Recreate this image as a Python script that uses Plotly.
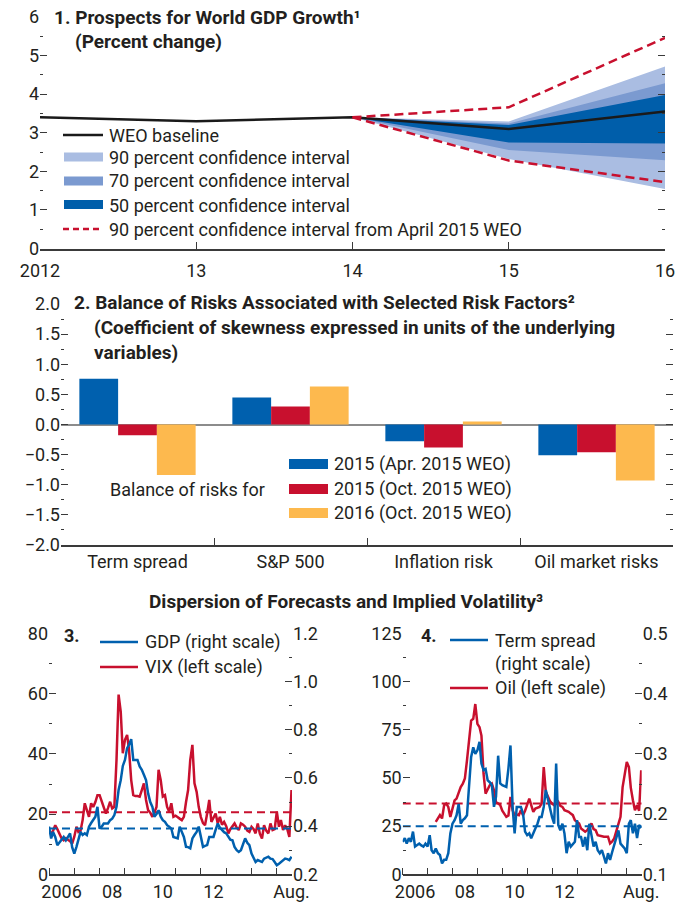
import plotly.graph_objects as go

# the page body adds an 8px margin; size the figure so it fills the 693x903 window
W, H = 693, 903
OFF = 8
FW, FH = W - OFF, H - OFF
FONT = "Roboto, Liberation Sans, sans-serif"
INK = "#231f20"
AXIS = "#3a3a3a"
BLUE = "#0060ae"
RED = "#c8102e"
YELLOW = "#fdb94e"
BAND90 = "#aabde2"
BAND70 = "#7b9ad0"
BAND50 = "#005eaa"

# ---- panel 1: prospects for world GDP growth (percent change)
years = [2012, 2013, 2014, 2015, 2016]
weo_baseline = [3.4, 3.3, 3.4, 3.1, 3.55]
fan_years = [2014, 2015, 2016]
ci90_upper = [3.4, 3.29, 4.72]
ci90_lower = [3.4, 2.32, 1.54]
ci70_upper = [3.4, 3.24, 4.28]
ci70_lower = [3.4, 2.55, 2.29]
ci50_upper = [3.4, 3.20, 3.98]
ci50_lower = [3.4, 2.75, 2.72]
apr_ci90_upper = [3.4, 3.66, 5.46]
apr_ci90_lower = [3.4, 2.28, 1.72]
p1_ticks = [2012, 2013, 2014, 2015, 2016]
p1_labels = ["2012", "13", "14", "15", "16"]

# ---- panel 2: balance of risks
risk_factors = ["Term spread", "S&P 500", "Inflation risk", "Oil market risks"]
skew_2015_apr = [0.76, 0.45, -0.28, -0.51]
skew_2015_oct = [-0.18, 0.30, -0.38, -0.46]
skew_2016_oct = [-0.84, 0.63, 0.05, -0.93]

# ---- panels 3 and 4: monthly, Jan 2006 - Aug 2015
months = [f"{y}-{m:02d}-01" for y in range(2006, 2016) for m in range(1, 13)][:116]

vix = [
    14.0, 13.5, 14.5, 16.3, 15.0, 13.5, 12.0, 11.3, 12.0, 11.5, 11.0, 10.2,
    12.5, 15.8, 14.1, 14.5, 18.0, 23.6, 21.0, 19.1, 23.6, 22.4, 24.0, 26.3,
    26.3, 24.0, 22.4, 20.2, 22.0, 24.1, 21.9, 22.4, 38.0, 59.7, 54.0, 40.2,
    44.7, 46.3, 41.3, 31.3, 26.3, 26.0, 26.0, 25.8, 28.0, 30.2, 24.7, 21.3,
    20.5, 19.1, 20.5, 22.4, 34.7, 31.3, 25.8, 26.3, 22.4, 20.8, 23.6, 19.1,
    19.5, 19.1, 18.5, 18.0, 19.1, 24.0, 28.0, 38.0, 43.0, 30.2, 27.4, 22.4,
    19.0, 17.0, 16.3, 20.2, 24.7, 17.4, 19.0, 20.2, 16.9, 19.1, 16.5, 17.4,
    16.0, 13.6, 15.0, 15.8, 16.9, 15.5, 14.7, 16.9, 16.5, 15.8, 14.5, 14.1,
    15.8, 15.0, 13.6, 16.9, 13.5, 11.9, 16.3, 14.5, 13.6, 16.9, 14.7, 15.0,
    20.8, 15.8, 18.0, 14.7, 16.3, 15.0, 12.4, 28.0,
]
gdp_dispersion = [
    0.398, 0.349, 0.376, 0.355, 0.321, 0.331, 0.341, 0.355, 0.341, 0.356, 0.370, 0.313,
    0.286, 0.314, 0.350, 0.376, 0.363, 0.370, 0.363, 0.398, 0.413, 0.425, 0.439, 0.480,
    0.390, 0.398, 0.411, 0.411, 0.411, 0.425, 0.431, 0.446, 0.480, 0.550, 0.591, 0.650,
    0.675, 0.724, 0.738, 0.761, 0.675, 0.675, 0.675, 0.648, 0.634, 0.613, 0.591, 0.536,
    0.500, 0.480, 0.439, 0.450, 0.466, 0.439, 0.425, 0.418, 0.404, 0.398, 0.390, 0.355,
    0.353, 0.349, 0.398, 0.375, 0.355, 0.314, 0.313, 0.308, 0.349, 0.363, 0.376, 0.398,
    0.355, 0.314, 0.318, 0.321, 0.355, 0.355, 0.355, 0.384, 0.411, 0.394, 0.384, 0.375,
    0.370, 0.355, 0.344, 0.341, 0.314, 0.300, 0.293, 0.300, 0.325, 0.349, 0.331, 0.321,
    0.286, 0.269, 0.251, 0.259, 0.255, 0.251, 0.265, 0.269, 0.273, 0.265, 0.263, 0.251,
    0.238, 0.244, 0.251, 0.259, 0.265, 0.263, 0.259, 0.273,
]
vix_avg = 20.6
gdp_avg = 0.39

oil = [
    None, None, None, None, None, None, None, None, None, None, None, None,
    None, None, None, None, 27.2, 29.0, 30.7, 29.0, 35.9, 36.7, 35.0, 29.8,
    34.1, 38.4, 39.3, 42.8, 45.3, 47.0, 49.7, 59.1, 70.0, 79.8, 80.7, 88.4,
    78.1, 76.4, 72.0, 52.2, 41.9, 44.5, 46.2, 47.1, 43.6, 37.6, 36.7, 35.9,
    33.0, 31.6, 29.8, 30.5, 40.2, 33.3, 30.7, 31.0, 30.7, 33.3, 30.7, 33.0,
    35.9, 39.3, 35.9, 32.4, 34.1, 34.5, 35.0, 36.7, 55.7, 42.8, 40.2, 38.0,
    36.7, 35.9, 36.5, 37.6, 35.5, 35.0, 33.3, 33.0, 32.4, 31.5, 30.7, 28.1,
    27.0, 26.4, 23.8, 23.0, 22.1, 22.9, 25.0, 26.4, 23.5, 22.9, 20.3, 20.0,
    19.5, 19.5, 19.5, 19.5, 16.0, 17.0, 18.6, 22.9, 26.0, 29.8, 45.3, 52.0,
    58.3, 55.7, 45.0, 38.4, 33.3, 35.9, 33.0, 54.0,
]
term_spread = [
    0.154, 0.160, 0.151, 0.160, 0.154, 0.171, 0.146, 0.149, 0.151, 0.148, 0.146, 0.151,
    0.146, 0.165, 0.140, 0.135, 0.143, 0.135, 0.132, 0.118, 0.124, 0.124, 0.135, 0.168,
    0.184, 0.190, 0.198, 0.217, 0.184, 0.190, 0.193, 0.198, 0.240, 0.295, 0.311, 0.300,
    0.306, 0.320, 0.284, 0.273, 0.275, 0.256, 0.253, 0.248, 0.212, 0.229, 0.297, 0.251,
    0.248, 0.247, 0.245, 0.276, 0.314, 0.212, 0.168, 0.212, 0.212, 0.212, 0.201, 0.171,
    0.165, 0.168, 0.160, 0.167, 0.176, 0.184, 0.195, 0.195, 0.212, 0.240, 0.223, 0.207,
    0.195, 0.184, 0.284, 0.182, 0.173, 0.184, 0.168, 0.135, 0.154, 0.146, 0.151, 0.154,
    0.190, 0.162, 0.162, 0.146, 0.162, 0.140, 0.184, 0.164, 0.146, 0.154, 0.140, 0.135,
    0.140, 0.129, 0.118, 0.135, 0.124, 0.137, 0.148, 0.162, 0.173, 0.151, 0.146, 0.143,
    0.135, 0.184, 0.190, 0.168, 0.184, 0.160, 0.182, 0.177,
]
oil_avg = 36.7
term_spread_avg = 0.18

ts_range = ["2006-01-01", "2015-08-08"]
ts_label_pos = ["2006-07-01", "2008-07-01", "2010-07-01", "2012-07-01", "2015-08-01"]
ts_labels = ["2006", "08", "10", "12", "Aug."]
ts_year_ticks = [f"{y}-01-01" for y in range(2006, 2016)]


# window pixel -> paper fraction
def fx(p):
    return (p - OFF) / FW


def fy(p):
    return 1 - (p - OFF) / FH


fig = go.Figure()

# panel 1 fan chart
for up, lo, col in [(ci90_upper, ci90_lower, BAND90), (ci70_upper, ci70_lower, BAND70),
                    (ci50_upper, ci50_lower, BAND50)]:
    fig.add_trace(go.Scatter(x=fan_years + fan_years[::-1], y=up + lo[::-1], fill="toself",
                             fillcolor=col, line=dict(width=0), mode="lines",
                             xaxis="x", yaxis="y", hoverinfo="skip"))
fig.add_trace(go.Scatter(x=years, y=weo_baseline, mode="lines",
                         line=dict(color="#1a1a1a", width=2.5), xaxis="x", yaxis="y"))
for band in (apr_ci90_upper, apr_ci90_lower):
    fig.add_trace(go.Scatter(x=fan_years, y=band, mode="lines",
                             line=dict(color=RED, width=2.5, dash="9px,5px"),
                             xaxis="x", yaxis="y"))

# panel 2 bars
for vals, col in [(skew_2015_apr, BLUE), (skew_2015_oct, RED), (skew_2016_oct, YELLOW)]:
    fig.add_trace(go.Bar(x=risk_factors, y=vals, marker=dict(color=col, line=dict(width=0)),
                         xaxis="x2", yaxis="y2"))

# panel 3
fig.add_trace(go.Scatter(x=[ts_range[0], ts_range[1]], y=[vix_avg, vix_avg], mode="lines",
                         line=dict(color=RED, width=2, dash="8px,5px"), xaxis="x3", yaxis="y3"))
fig.add_trace(go.Scatter(x=months, y=vix, mode="lines", line=dict(color=RED, width=2.5),
                         xaxis="x3", yaxis="y3"))
fig.add_trace(go.Scatter(x=[ts_range[0], ts_range[1]], y=[gdp_avg, gdp_avg], mode="lines",
                         line=dict(color=BLUE, width=2, dash="8px,5px"), xaxis="x3", yaxis="y4"))
fig.add_trace(go.Scatter(x=months, y=gdp_dispersion, mode="lines", line=dict(color=BLUE, width=2.5),
                         xaxis="x3", yaxis="y4"))

# panel 4
fig.add_trace(go.Scatter(x=[ts_range[0], ts_range[1]], y=[oil_avg, oil_avg], mode="lines",
                         line=dict(color=RED, width=2, dash="8px,5px"), xaxis="x4", yaxis="y5"))
fig.add_trace(go.Scatter(x=months, y=oil, mode="lines", line=dict(color=RED, width=2.5),
                         xaxis="x4", yaxis="y5"))
fig.add_trace(go.Scatter(x=[ts_range[0], ts_range[1]], y=[term_spread_avg, term_spread_avg],
                         mode="lines", line=dict(color=BLUE, width=2, dash="8px,5px"),
                         xaxis="x4", yaxis="y6"))
fig.add_trace(go.Scatter(x=months, y=term_spread, mode="lines", line=dict(color=BLUE, width=2.5),
                         xaxis="x4", yaxis="y6"))

tickfont = dict(size=18, color=INK, family=FONT)


def yax(rng, tick0, dtick, minor, domain, fmt, **kw):
    d = dict(range=rng, tick0=tick0, dtick=dtick, domain=domain, ticks="inside", ticklen=7,
             tickwidth=1, tickcolor=AXIS, showline=False, showgrid=False, zeroline=False,
             tickformat=fmt, tickfont=tickfont, automargin=False, ticklabeloverflow="allow",
             minor=dict(tick0=tick0, dtick=minor, ticks="inside", ticklen=3, tickcolor=AXIS,
                        showgrid=False))
    d.update(kw)
    return d


xbase = dict(showline=True, linecolor=AXIS, linewidth=1.5, ticks="inside", ticklen=7,
             tickcolor=AXIS, showgrid=False, zeroline=False, tickfont=tickfont,
             automargin=False, ticklabeloverflow="allow")

p1_dom_y = [fy(248.5), fy(17)]
p2_dom_y = [fy(545), fy(304)]
p34_dom_y = [fy(874.3), fy(633.5)]

fig.update_layout(
    width=FW, height=FH, autosize=False,
    margin=dict(l=0, r=0, t=0, b=0, pad=0),
    paper_bgcolor="white", plot_bgcolor="white",
    showlegend=False,
    font=dict(family=FONT, color=INK, size=18),
    barmode="group", bargap=0.24, bargroupgap=0,
    xaxis=dict(xbase, domain=[fx(40), fx(665)], range=[2012, 2016], tickvals=p1_ticks,
               ticktext=p1_labels, anchor="y", ticklabelstandoff=5),
    yaxis=yax([0, 6 + 1e-6], 0, 1, 0.5, p1_dom_y, "d", anchor="x", mirror="ticks"),
    xaxis2=dict(xbase, domain=[fx(61), fx(673)], range=[-0.5, 3.5], tickson="boundaries",
                anchor="y2"),
    yaxis2=yax([-2, 2 + 1e-6], -2, 0.5, 0.25, p2_dom_y, ".1f", anchor="x2", mirror="ticks",
               zeroline=True, zerolinecolor="#8c8c8c", zerolinewidth=1.5),
    xaxis3=dict(xbase, domain=[fx(49), fx(292)], range=ts_range, tickvals=ts_label_pos,
                ticktext=ts_labels, ticks="", anchor="y3",
                minor=dict(tickvals=ts_year_ticks, ticks="inside", ticklen=7, tickcolor=AXIS)),
    yaxis3=yax([0, 80 + 1e-6], 0, 20, 10, p34_dom_y, "d", anchor="x3"),
    yaxis4=yax([0.2, 1.2 + 1e-6], 0.2, 0.2, 0.1, p34_dom_y, ".1f", anchor="x3",
               overlaying="y3", side="right"),
    xaxis4=dict(xbase, domain=[fx(402.7), fx(641.7)], range=ts_range, tickvals=ts_label_pos,
                ticktext=ts_labels, ticks="", anchor="y5",
                minor=dict(tickvals=ts_year_ticks, ticks="inside", ticklen=7, tickcolor=AXIS)),
    yaxis5=yax([0, 125 + 1e-6], 0, 25, 12.5, p34_dom_y, "d", anchor="x4"),
    yaxis6=yax([0.1, 0.5 + 1e-6], 0.1, 0.1, 0.05, p34_dom_y, ".1f", anchor="x4",
               overlaying="y5", side="right"),
)

ann = []


def text(x, y, s, size=18, bold=False, xanchor="left"):
    ann.append(dict(x=fx(x), y=fy(y), xref="paper", yref="paper", showarrow=False,
                    text=f"<b>{s}</b>" if bold else s, xanchor=xanchor, yanchor="middle",
                    font=dict(size=size, color=INK, family=FONT)))


shapes = []


def key_line(x0, x1, y, color, dash="solid", width=2.5):
    shapes.append(dict(type="line", xref="paper", yref="paper", x0=fx(x0), x1=fx(x1),
                       y0=fy(y), y1=fy(y), line=dict(color=color, width=width, dash=dash)))


def key_rect(x0, x1, y, color, h=9):
    shapes.append(dict(type="rect", xref="paper", yref="paper", x0=fx(x0), x1=fx(x1),
                       y0=fy(y - h / 2), y1=fy(y + h / 2), fillcolor=color,
                       line=dict(width=0)))


TS = 19  # title size

# panel 1 titles and legend
text(52, 18, "1. Prospects for World GDP Growth¹", size=TS, bold=True)
text(73, 42, "(Percent change)", size=TS, bold=True)
key_line(63, 103, 135, "#1a1a1a")
text(107, 135, "WEO baseline")
key_rect(64, 103, 157, BAND90)
text(107, 157, "90 percent confidence interval")
key_rect(64, 103, 181, BAND70)
text(107, 181, "70 percent confidence interval")
key_rect(64, 103, 204.5, BAND50)
text(107, 205, "50 percent confidence interval")
key_line(63, 103, 229, RED, dash="6px,4px")
text(107, 229, "90 percent confidence interval from April 2015 WEO")

# panel 2 titles and legend
text(72, 302, "2. Balance of Risks Associated with Selected Risk Factors²", size=TS, bold=True)
text(92, 327, "(Coefficient of skewness expressed in units of the underlying", size=TS, bold=True)
text(92, 352, "variables)", size=TS, bold=True)
key_rect(289, 328, 464, BLUE, h=10)
text(332, 464, "2015 (Apr. 2015 WEO)")
key_rect(289, 328, 489, RED, h=10)
text(332, 489, "2015 (Oct. 2015 WEO)")
key_rect(289, 328, 513, YELLOW, h=10)
text(332, 513, "2016 (Oct. 2015 WEO)")
text(267, 489, "Balance of risks for", xanchor="right")

# panels 3-4 titles and legends
text(346, 601, "Dispersion of Forecasts and Implied Volatility³", size=TS, bold=True,
     xanchor="center")
text(62, 635, "3.", bold=True)
key_line(100, 138, 642, BLUE)
text(143, 642, "GDP (right scale)")
key_line(100, 138, 667, RED)
text(143, 667, "VIX (left scale)")
text(419, 635, "4.", bold=True)
key_line(450, 488, 640, BLUE)
text(493, 640, "Term spread")
text(493, 664, "(right scale)")
key_line(450, 488, 688, RED)
text(493, 688, "Oil (left scale)")

fig.update_layout(annotations=ann, shapes=shapes)
fig.write_html("out.html")
